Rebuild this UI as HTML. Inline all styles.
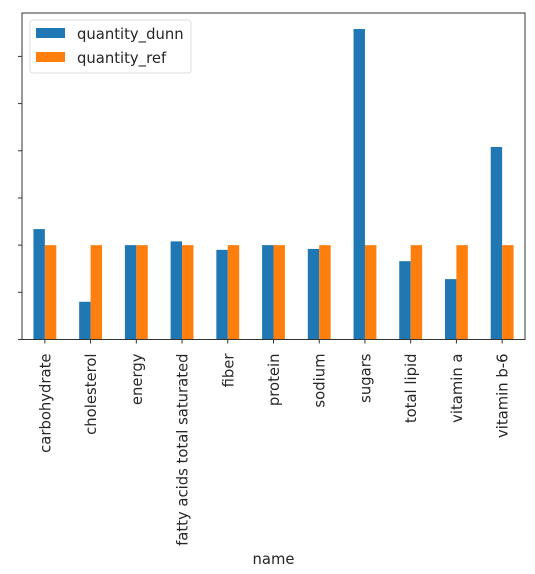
<!DOCTYPE html>
<html><head><meta charset="utf-8"><style>
html,body{margin:0;padding:0;background:#fff;}
svg text{font-family:"DejaVu Sans","Liberation Sans",sans-serif;fill:#262626;}
</style></head><body>
<svg id="chart" width="535" height="569" xmlns="http://www.w3.org/2000/svg"></svg>
<script>
const categories = ["carbohydrate","cholesterol","energy","fatty acids total saturated","fiber","protein","sodium","sugars","total lipid","vitamin a","vitamin b-6"];
const dunnValues = [1.17,0.40,1.0,1.04,0.95,1.0,0.96,3.29,0.83,0.64,2.04];
const refValues = [1,1,1,1,1,1,1,1,1,1,1];
const yTicks = [0,0.5,1,1.5,2,2.5,3];

const NS="http://www.w3.org/2000/svg";
const svg=document.getElementById('chart');
const L=22,R=525,T=13,B=339.5,yMax=3.46;
const FS=14.8;
const band=(R-L)/categories.length;
function xc(i){return L+band*(i+0.5);}
function y(v){return B-(v/yMax)*(B-T);}
function mk(tag,attrs,parent){const e=document.createElementNS(NS,tag);for(const k in attrs)e.setAttribute(k,attrs[k]);(parent||svg).appendChild(e);return e;}

const bw=band*0.25;
categories.forEach((c,i)=>{
  const b1=mk('rect',{x:xc(i)-bw,y:y(dunnValues[i]),width:bw,height:B-y(dunnValues[i]),fill:'#1f77b4'});
  
  
  const b2=mk('rect',{x:xc(i),y:y(refValues[i]),width:bw,height:B-y(refValues[i]),fill:'#ff7f0e'});
  
  
  const tk=mk('line',{x1:xc(i),x2:xc(i),y1:B,y2:B+4,stroke:'#333','stroke-width':1});
  
  
  const t=mk('text',{x:0,y:0,'font-size':FS,'text-anchor':'end',transform:`translate(${xc(i)+5.5},${B+14}) rotate(-90)`});
  t.textContent=c;
  
  
});
yTicks.forEach(v=>{
  const tk=mk('line',{x1:L-4,x2:L,y1:y(v),y2:y(v),stroke:'#333','stroke-width':1});
  
  
});
const frame=mk('rect',{x:L,y:T,width:R-L,height:B-T,fill:'none',stroke:'#333','stroke-width':1});



const xl=mk('text',{x:(L+R)/2,y:564,'font-size':FS,'text-anchor':'middle'});
xl.textContent='name';



const lg=mk('g',{});


mk('rect',{x:30,y:20,width:161,height:53,rx:3,fill:'#fff',stroke:'#ddd'},lg);
mk('rect',{x:36,y:28,width:29,height:10,fill:'#1f77b4'},lg);
mk('rect',{x:36,y:52,width:29,height:10,fill:'#ff7f0e'},lg);
const l1=mk('text',{x:77,y:39,'font-size':FS},lg);l1.textContent='quantity_dunn';


const l2=mk('text',{x:77,y:63,'font-size':FS},lg);l2.textContent='quantity_ref';


</script>
</body></html>
